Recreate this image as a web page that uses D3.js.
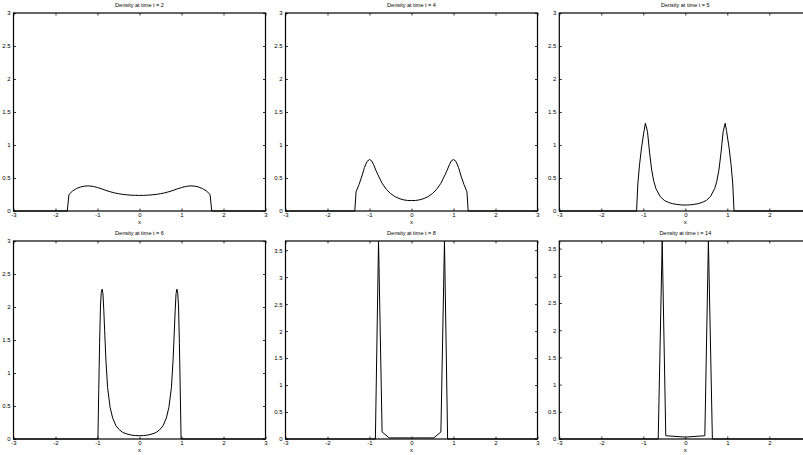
<!DOCTYPE html>
<html><head><meta charset="utf-8">
<script src="https://cdn.jsdelivr.net/npm/d3@7"></script>
<style>
html,body{margin:0;padding:0;background:#fff;overflow:hidden;}
svg{display:block;}
text{font-family:"Liberation Sans",Arial,Helvetica,sans-serif;fill:#000;}
</style></head>
<body>
<script>
// ---- data ----
const titles = ["Density at time t = 2","Density at time t = 4","Density at time t = 5",
                "Density at time t = 6","Density at time t = 8","Density at time t = 14"];
const xTicks = [-3,-2,-1,0,1,2,3];
const yTicksA = [0,0.5,1,1.5,2,2.5,3];
const yTicksB = [0,0.5,1,1.5,2,2.5,3,3.5];
const yMaxes = [3,3,3,3,3.67,3.64];

const t2x = [-3,-1.72,-1.68,-1.6,-1.5,-1.4,-1.3,-1.2,-1.1,-1.0,-0.9,-0.8,-0.7,-0.6,-0.5,-0.4,-0.3,-0.2,-0.1,0,0.1,0.2,0.3,0.4,0.5,0.6,0.7,0.8,0.9,1.0,1.1,1.2,1.3,1.4,1.5,1.6,1.68,1.72,3];
const t2y = [0,0,0.25,0.30,0.34,0.365,0.378,0.38,0.372,0.355,0.335,0.312,0.292,0.275,0.262,0.252,0.245,0.24,0.237,0.236,0.237,0.24,0.245,0.252,0.262,0.275,0.292,0.312,0.335,0.355,0.372,0.38,0.378,0.365,0.34,0.30,0.25,0,0];

const t4x = [-3,-1.35,-1.32,-1.25,-1.18,-1.12,-1.06,-1.0,-0.95,-0.9,-0.85,-0.8,-0.7,-0.6,-0.5,-0.4,-0.3,-0.2,-0.1,0,0.1,0.2,0.3,0.4,0.5,0.6,0.7,0.8,0.85,0.9,0.95,1.0,1.06,1.12,1.18,1.25,1.32,1.35,3];
const t4y = [0,0,0.29,0.40,0.53,0.66,0.75,0.78,0.76,0.70,0.62,0.55,0.42,0.33,0.265,0.22,0.19,0.17,0.16,0.158,0.16,0.17,0.19,0.22,0.265,0.33,0.42,0.55,0.62,0.70,0.76,0.78,0.75,0.66,0.53,0.40,0.29,0,0];

const t5x = [-3,-1.16,-1.13,-1.09,-1.04,-0.98,-0.95,-0.9,-0.85,-0.8,-0.75,-0.7,-0.6,-0.5,-0.4,-0.3,-0.2,-0.1,0,0.1,0.2,0.3,0.4,0.5,0.6,0.7,0.75,0.8,0.85,0.9,0.95,0.98,1.04,1.09,1.13,1.16,3];
const t5y = [0,0,0.41,0.70,0.97,1.22,1.33,1.20,0.88,0.62,0.45,0.34,0.22,0.16,0.13,0.11,0.10,0.092,0.09,0.092,0.10,0.11,0.13,0.16,0.22,0.34,0.45,0.62,0.88,1.20,1.33,1.22,0.97,0.70,0.41,0,0];

const t6x = [-3,-0.99,-0.97,-0.95,-0.93,-0.91,-0.89,-0.87,-0.85,-0.83,-0.8,-0.76,-0.7,-0.64,-0.56,-0.48,-0.4,-0.32,-0.2,-0.1,0,0.1,0.2,0.32,0.4,0.48,0.56,0.64,0.7,0.76,0.8,0.83,0.85,0.87,0.89,0.91,0.93,0.95,0.97,0.99,3];
const t6y = [0,0,0.75,1.45,2.0,2.22,2.27,2.2,1.95,1.65,1.2,0.78,0.48,0.32,0.2,0.14,0.1,0.08,0.06,0.052,0.05,0.052,0.06,0.08,0.1,0.14,0.2,0.32,0.48,0.78,1.2,1.65,1.95,2.2,2.27,2.22,2.0,1.45,0.75,0,0];

const t8x = [-3,-0.86,-0.785,-0.70,-0.53,-0.3,0,0.3,0.53,0.70,0.785,0.86,3];
const t8y = [0,0,3.67,0.13,0.02,0.02,0.02,0.02,0.02,0.13,3.67,0,0];

const t14x = [-3,-0.645,-0.55,-0.465,0,0.465,0.55,0.645,3];
const t14y = [0,0,3.64,0.06,0.035,0.06,3.64,0,0];

const seriesX = [t2x,t4x,t5x,t6x,t8x,t14x];
const seriesY = [t2y,t4y,t5y,t6y,t8y,t14y];
const yTickSets = [yTicksA,yTicksA,yTicksA,yTicksA,yTicksB,yTicksB];

// ---- layout ----
const W = 803, H = 455;
const colLeft = [13.5, 285.5, 559.3];
const rowTop = [13, 241];
const pw = 252, ph = 198;

const svg = d3.select("body").append("svg").attr("width", W).attr("height", H);
const fmt = d => (d < 0 ? "-" + Math.abs(d) : String(d));

for (let i = 0; i < 6; i++) {
  const L = colLeft[i % 3], T = rowTop[Math.floor(i / 3)];
  const x = d3.scaleLinear().domain([-3, 3]).range([L, L + pw]);
  const y = d3.scaleLinear().domain([0, yMaxes[i]]).range([T + ph, T]);
  const g = svg.append("g");
  const visX = xTicks.filter(v => x(v) <= W - 2);

  const styleAxis = sel => {
    sel.select(".domain").remove();
    sel.selectAll("line").attr("stroke", "#000").attr("stroke-width", 0.8);
    sel.selectAll("text").style("font-size", "6px").attr("fill", "#111");
  };

  g.append("g").attr("transform", `translate(0,${T + ph})`)
    .call(d3.axisBottom(x).tickValues(visX).tickFormat(fmt).tickSizeInner(-2.5).tickSizeOuter(0).tickPadding(1.3))
    .call(styleAxis);
  g.append("g").attr("transform", `translate(0,${T})`)
    .call(d3.axisTop(x).tickValues(visX).tickFormat("").tickSizeInner(-2.5).tickSizeOuter(0))
    .call(styleAxis);
  g.append("g").attr("transform", `translate(${L},0)`)
    .call(d3.axisLeft(y).tickValues(yTickSets[i]).tickFormat(fmt).tickSizeInner(-2.5).tickSizeOuter(0).tickPadding(3))
    .call(styleAxis);
  g.append("g").attr("transform", `translate(${L + pw},0)`)
    .call(d3.axisRight(y).tickValues(yTickSets[i]).tickFormat("").tickSizeInner(-2.5).tickSizeOuter(0))
    .call(styleAxis);

  const pts = seriesX[i].map((v, k) => [v, seriesY[i][k]]);
  g.append("path").datum(pts)
    .attr("fill", "none").attr("stroke", "#000").attr("stroke-width", 1)
    .attr("stroke-linejoin", "round")
    .attr("d", d3.line().x(d => x(d[0])).y(d => y(d[1])));

  g.append("rect").attr("x", L).attr("y", T).attr("width", pw).attr("height", ph)
    .attr("fill", "none").attr("stroke", "#000").attr("stroke-width", 1.2);

  g.append("text").attr("x", L + pw / 2).attr("y", T - 6.5)
    .attr("text-anchor", "middle").style("font-size", "5.5px").attr("fill", "#111").text(titles[i]);
  g.append("text").attr("x", L + pw / 2).attr("y", T + ph + 13)
    .attr("text-anchor", "middle").style("font-size", "6px").attr("fill", "#111").text("x");
}
</script>
</body></html>
